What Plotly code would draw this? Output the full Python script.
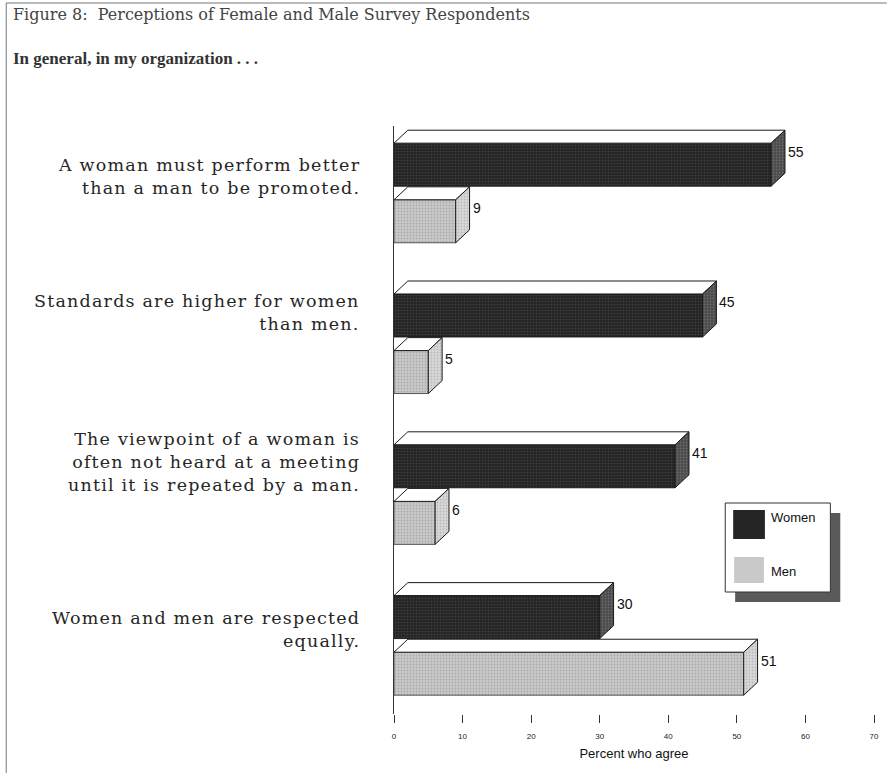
import plotly.graph_objects as go

# ---- data ----
categories = [
    "A woman must perform better<br>than a man to be promoted.",
    "Standards are higher for women<br>than men.",
    "The viewpoint of a woman is<br>often not heard at a meeting<br>until it is repeated by a man.",
    "Women and men are respected<br>equally.",
]
women = [55, 45, 41, 30]
men = [9, 5, 6, 51]
series_names = ["Women", "Men"]
x_ticks = [0, 10, 20, 30, 40, 50, 60, 70]

# ---- layout geometry (styles) ----
W, H = 891, 773
ML, MR, MT, MB = 394, 13, 126, 59
PW, PH = W - ML - MR, H - MT - MB
Y_RANGE = [3.455, -0.444]
BAR_W = 0.285
OFF = 0.1877
DX = 2.02      # 3D depth in x data units
DY = 0.086     # 3D depth in y data units
LABEL_YSHIFT = [-7, 7, 9, -8]   # fine vertical placement of category labels (px)

def px_x(px):
    return (px - ML) / PW

def px_y(py):
    return (H - MB - py) / PH

WOMEN_FRONT = "#252525"
WOMEN_DOT = "#5e5e5e"
WOMEN_SIDE = "#4a4a4a"
MEN_FRONT = "#c9c9c9"
MEN_DOT = "#8c8c8c"
MEN_SIDE = "#d9d9d9"
EDGE = "#1a1a1a"

fig = go.Figure()

ys_w = [i - OFF for i in range(len(categories))]
ys_m = [i + OFF for i in range(len(categories))]

fig.add_trace(go.Bar(
    x=women, y=ys_w, orientation="h", width=BAR_W, name=series_names[0],
    marker=dict(color=WOMEN_FRONT, line=dict(color=EDGE, width=1),
                pattern=dict(shape=".", fgcolor=WOMEN_DOT, bgcolor=WOMEN_FRONT, size=3, solidity=0.25)),
    showlegend=False, hoverinfo="x",
))
fig.add_trace(go.Bar(
    x=men, y=ys_m, orientation="h", width=BAR_W, name=series_names[1],
    marker=dict(color=MEN_FRONT, line=dict(color="#555555", width=1),
                pattern=dict(shape=".", fgcolor=MEN_DOT, bgcolor=MEN_FRONT, size=3, solidity=0.3)),
    showlegend=False, hoverinfo="x",
))

def add_3d(values, ys, side_color, dot_color):
    for v, yc in zip(values, ys):
        yt = yc - BAR_W / 2
        yb = yc + BAR_W / 2
        # top face
        fig.add_trace(go.Scatter(
            x=[0, v, v + DX, DX, 0], y=[yt, yt, yt - DY, yt - DY, yt],
            mode="lines", fill="toself", fillcolor="white",
            line=dict(color=EDGE, width=1), showlegend=False, hoverinfo="skip",
        ))
        # side face
        fig.add_trace(go.Scatter(
            x=[v, v + DX, v + DX, v, v], y=[yt, yt - DY, yb - DY, yb, yt],
            mode="lines", fill="toself", fillcolor=side_color,
            fillpattern=dict(shape=".", fgcolor=dot_color, bgcolor=side_color, size=3, solidity=0.3),
            line=dict(color=EDGE, width=1), showlegend=False, hoverinfo="skip",
        ))

add_3d(women, ys_w, WOMEN_SIDE, "#8a8a8a")
add_3d(men, ys_m, MEN_SIDE, "#9a9a9a")

annotations = []
label_font = dict(family="Liberation Sans, Arial, sans-serif", size=14, color="#111111")
for vals, ys in ((women, ys_w), (men, ys_m)):
    for v, yc in zip(vals, ys):
        annotations.append(dict(
            x=v + DX, y=yc - DY, xref="x", yref="y", text=str(v),
            showarrow=False, xanchor="left", yanchor="middle", xshift=1,
            font=label_font,
        ))

cat_font = dict(family="DejaVu Serif, serif", size=17.5, color="#262626")
for i, c in enumerate(categories):
    styled = "<br>".join(
        '<span style="letter-spacing:1.2px">' + line + "</span>" for line in c.split("<br>")
    )
    annotations.append(dict(
        x=px_x(362), y=ys_w[i] + 0.03, xref="paper", yref="y", text=styled,
        showarrow=False, xanchor="right", yanchor="middle", align="right",
        yshift=LABEL_YSHIFT[i], font=cat_font,
    ))

# titles
annotations.append(dict(
    x=px_x(8), y=px_y(14), xref="paper", yref="paper",
    text="Figure 8:  Perceptions of Female and Male Survey Respondents",
    showarrow=False, xanchor="left", yanchor="middle",
    font=dict(family="DejaVu Serif, serif", size=16, color="#444444"),
))
annotations.append(dict(
    x=px_x(8), y=px_y(58), xref="paper", yref="paper",
    text="<b>In general, in my organization . . .</b>",
    showarrow=False, xanchor="left", yanchor="middle",
    font=dict(family="Liberation Serif, serif", size=17, color="#333333"),
))

# legend (custom)
shapes = []
shapes.append(dict(type="rect", xref="paper", yref="paper",
                   x0=px_x(738), x1=px_x(844), y0=px_y(602), y1=px_y(513),
                   fillcolor="#5a5a5a", line=dict(width=0), layer="above"))
shapes.append(dict(type="rect", xref="paper", yref="paper",
                   x0=px_x(728), x1=px_x(834), y0=px_y(592), y1=px_y(503),
                   fillcolor="white", line=dict(color="#333333", width=1), layer="above"))
shapes.append(dict(type="rect", xref="paper", yref="paper",
                   x0=px_x(736), x1=px_x(768), y0=px_y(539), y1=px_y(510),
                   fillcolor=WOMEN_FRONT, line=dict(width=0), layer="above"))
shapes.append(dict(type="rect", xref="paper", yref="paper",
                   x0=px_x(737), x1=px_x(767), y0=px_y(583), y1=px_y(557),
                   fillcolor=MEN_FRONT, line=dict(width=0), layer="above"))
leg_font = dict(family="Liberation Sans, Arial, sans-serif", size=13, color="#111111")
annotations.append(dict(x=px_x(772), y=px_y(517), xref="paper", yref="paper",
                        text=series_names[0], showarrow=False, xanchor="left",
                        yanchor="middle", font=leg_font))
annotations.append(dict(x=px_x(772), y=px_y(571), xref="paper", yref="paper",
                        text=series_names[1], showarrow=False, xanchor="left",
                        yanchor="middle", font=leg_font))

# page frame (top and left edges)
shapes.append(dict(type="line", xref="paper", yref="paper",
                   x0=px_x(3), x1=px_x(891), y0=px_y(3), y1=px_y(3),
                   line=dict(color="#777777", width=1)))
shapes.append(dict(type="line", xref="paper", yref="paper",
                   x0=px_x(3), x1=px_x(3), y0=px_y(3), y1=px_y(773),
                   line=dict(color="#777777", width=1)))

fig.update_layout(
    width=W, height=H,
    margin=dict(l=ML, r=MR, t=MT, b=MB, pad=0),
    paper_bgcolor="white", plot_bgcolor="white",
    barmode="overlay",
    showlegend=False,
    annotations=annotations,
    shapes=shapes,
    xaxis=dict(
        range=[0, 70], tickvals=x_ticks, ticktext=[str(t) for t in x_ticks],
        showgrid=False, zeroline=False, showline=False,
        ticks="outside", ticklen=8, tickwidth=1, tickcolor="#333333",
        ticklabelstandoff=6,
        tickfont=dict(family="Liberation Sans, Arial, sans-serif", size=8, color="#222222"),
        title=dict(text="Percent who agree", standoff=9,
                   font=dict(family="Liberation Sans, Arial, sans-serif", size=13, color="#111111")),
        fixedrange=True,
    ),
    yaxis=dict(
        range=Y_RANGE, showgrid=False, zeroline=False, showline=True,
        linecolor="#333333", linewidth=1, showticklabels=False, ticks="",
        fixedrange=True,
    ),
)

fig.write_html("out.html", config={"displayModeBar": False},
               post_script="document.body.style.margin='0px';")
